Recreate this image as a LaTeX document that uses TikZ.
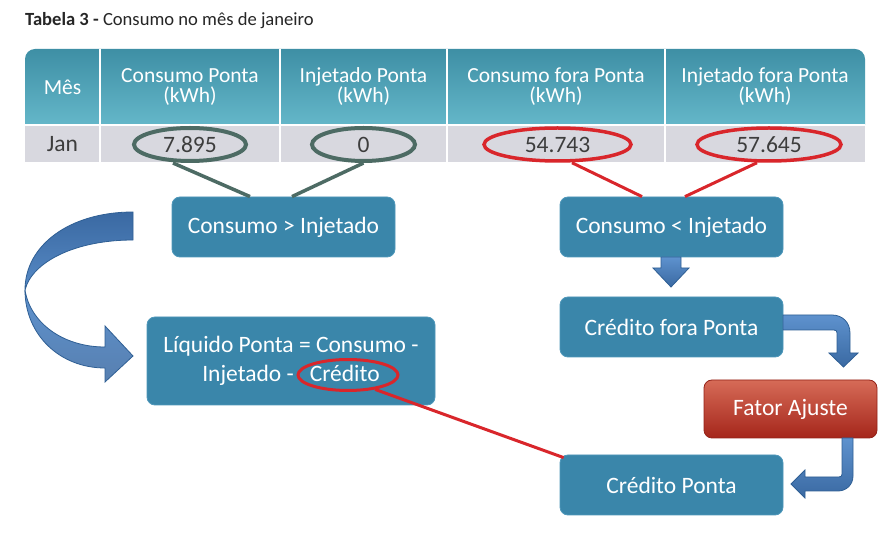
\documentclass[tikz,border=0pt]{standalone}
\usepackage{fontspec}
\setmainfont{Carlito}
\usetikzlibrary{shapes.geometric}
\definecolor{hdrtop}{HTML}{3E8FA5}
\definecolor{hdrbot}{HTML}{64B7C9}
\definecolor{rowgray}{HTML}{D8D8DF}
\definecolor{boxblue}{HTML}{3A86AA}
\definecolor{boxedge}{HTML}{4E97BA}
\definecolor{ellgray}{HTML}{4D6B64}
\definecolor{ellred}{HTML}{D9262B}
\definecolor{arrdark}{HTML}{3A69A2}
\definecolor{arrlight}{HTML}{5E92CE}
\definecolor{arredge}{HTML}{2F5F94}
\definecolor{redtop}{HTML}{D66B57}
\definecolor{redbot}{HTML}{A5261B}
\definecolor{celltext}{HTML}{3D3D3D}
\tikzset{
  hdr/.style={align=center, text=white, font=\fontsize{21.5}{20}\selectfont, inner sep=0pt},
  cell/.style={text=celltext, font=\fontsize{23.5}{24}\selectfont, inner sep=0pt},
  ellg/.style={ellipse, draw=ellgray, line width=4pt, inner sep=0pt},
  ellr/.style={ellipse, draw=ellred, line width=3.5pt, inner sep=0pt},
  conng/.style={draw=ellgray, line width=3.5pt},
  connr/.style={draw=ellred, line width=3pt},
  bluebox/.style={rectangle, rounded corners=8pt, fill=boxblue, draw=boxedge, line width=0.8pt,
    text=white, font=\fontsize{23.5}{29}\selectfont, align=center, inner sep=0pt},
  redbox/.style={rectangle, rounded corners=8pt, top color=redtop, bottom color=redbot, draw=redbot!90!black, line width=0.8pt,
    text=white, font=\fontsize{23.5}{29}\selectfont, align=center, inner sep=0pt},
  blockarrow/.style={top color=arrlight, bottom color=arrdark, draw=arredge, line width=0.8pt},
}
\begin{document}
\begin{tikzpicture}[x=1pt,y=-1pt]
\useasboundingbox[fill=white] (0,0) rectangle (887,534);

% title
\node[anchor=base west, inner sep=0pt, text=black!85, font=\fontsize{18.6}{20}\selectfont] (title) at (25,25.5)
  {\textbf{Tabela 3 -} Consumo no mês de janeiro};

% table
\begin{scope}
  \clip[rounded corners=10pt] (25,49) rectangle (865,200);
  \shade[top color=hdrtop, bottom color=hdrbot] (25,49) rectangle (865,125);
  \fill[rowgray] (25,125) rectangle (865,162);
\end{scope}
\foreach \xx in {100,280,447,665} \draw[white, line width=2pt] (\xx,49) -- (\xx,162);
\draw[white, line width=2pt] (25,125) -- (865,125);

\node[hdr] (h0) at (62.5,87.5) {Mês};
\node[hdr] (h1) at (190,87) {Consumo Ponta\\(kWh)};
\node[hdr] (h2) at (363.5,87) {Injetado Ponta\\(kWh)};
\node[hdr] (h3) at (556,87) {Consumo fora Ponta\\(kWh)};
\node[hdr] (h4) at (765,87) {Injetado fora Ponta\\(kWh)};

\node[cell] (c0) at (62.5,144) {Jan};
\node[ellg, cell, minimum width=112pt, minimum height=33pt] (e1) at (190,144.5) {7.895};
\node[ellg, cell, minimum width=103pt, minimum height=33pt] (e2) at (363.5,144.5) {0};
\node[ellr, cell, minimum width=147pt, minimum height=33pt] (e3) at (557.5,144.5) {54.743};
\node[ellr, cell, minimum width=144pt, minimum height=33pt] (e4) at (769,144.5) {57.645};

% boxes
\node[bluebox, minimum width=223pt, minimum height=60pt] (b1) at (283.5,227) {Consumo > Injetado};
\node[bluebox, minimum width=223pt, minimum height=60pt] (b2) at (671.5,227) {Consumo < Injetado};
\node[bluebox, minimum width=223pt, minimum height=60pt] (b3) at (671.5,327) {Crédito fora Ponta};
\node[redbox, minimum width=173pt, minimum height=58pt] (b4) at (790.5,409) {Fator Ajuste};
\node[bluebox, minimum width=223pt, minimum height=60pt] (b5) at (671.5,485) {Crédito Ponta};
\node[bluebox, minimum width=288pt, minimum height=88pt] (b6) at (291,361) {Líquido Ponta = Consumo -\\Injetado - \ \ Crédito};
\node[ellr, line width=3pt, minimum width=100pt, minimum height=31pt] (cred) at (348,375) {};

% connectors
\draw[conng] ([xshift=-17pt]e1.south) -- ([xshift=-33.5pt]b1.north);
\draw[conng] (e2.south) -- ([xshift=8.5pt]b1.north);
\draw[connr] ([xshift=14.5pt]e3.south) -- ([xshift=-29.5pt]b2.north);
\draw[connr] ([xshift=-12pt]e4.south) -- ([xshift=13.5pt]b2.north);
\draw[connr] (cred.-28) -- ([xshift=4pt,yshift=-3pt]b5.north west);

% block arrow b2 -> b3
\path[blockarrow] (661,257) -- (661,268) -- (653,268) -- (671,287) -- (689,268) -- (681,268) -- (681,257) -- cycle;

% bent arrow b3 -> b4
\path[blockarrow] (783,315) -- (832,315) .. controls (842,315) and (850,322) .. (850,333) -- (850,353) -- (858,353)
  -- (843.5,367) -- (829,353) -- (837,353) -- (837,333) .. controls (837,331) and (836,330) .. (834,330) -- (783,330) -- cycle;

% bent arrow b4 -> b5
\path[blockarrow] (842,438) -- (842,474) .. controls (842,476) and (841,477) .. (839,477) -- (805,477) -- (805,470)
  -- (791,484) -- (805,498) -- (805,491) -- (838,491) .. controls (846,491) and (853,485) .. (853,476) -- (853,438) -- cycle;

% curved arrow b1 -> b6 (left)
\path[top color=arrdark, bottom color=arrlight!80!arrdark, draw=arredge, line width=0.8pt]
  (133,212) .. controls (70,212) and (25,245) .. (25,290)
  .. controls (32,262) and (75,240) .. (133,240) -- cycle;
\path[top color=arrlight, bottom color=arrdark!85, draw=arredge, line width=0.8pt]
  (25,290) .. controls (25,335) and (60,368) .. (105,368) -- (105,382) -- (133,356) -- (105,326) -- (105,347)
  .. controls (62,347) and (30,322) .. (25,290) -- cycle;
\end{tikzpicture}
\end{document}
